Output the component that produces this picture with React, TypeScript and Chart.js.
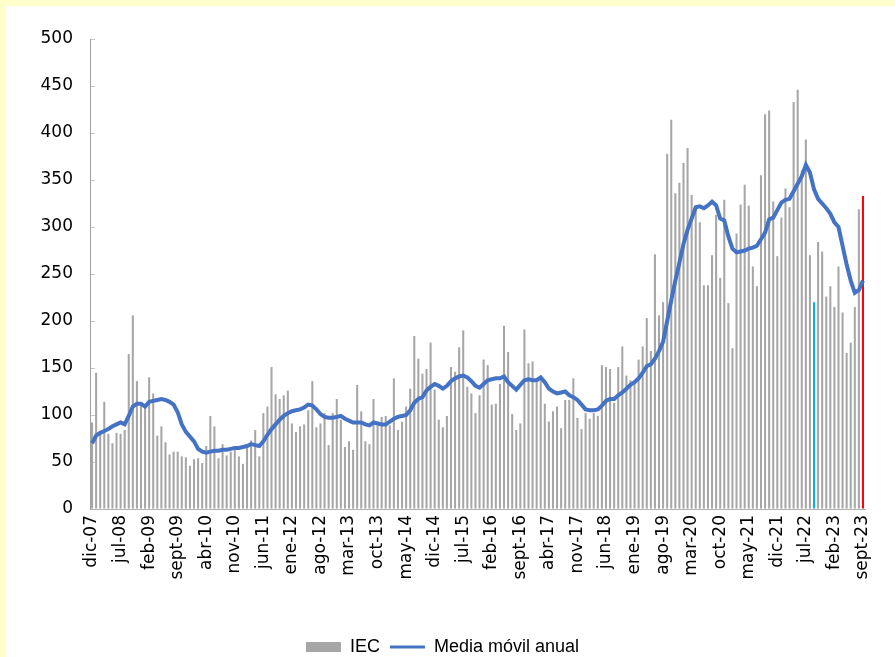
import React, { useEffect, useRef } from "react";
import { Chart, registerables } from "chart.js";

Chart.register(...registerables);

const monthNames = ["ene", "feb", "mar", "abr", "may", "jun", "jul", "ago", "sept", "oct", "nov", "dic"];
const startYear = 2007;
const startMonth = 11; // dic
const nMonths = 190;
const categories: string[] = [];
for (let i = 0; i < nMonths; i++) {
  const m = (startMonth + i) % 12;
  const y = startYear + Math.floor((startMonth + i) / 12);
  categories.push(`${monthNames[m]}-${String(y % 100).padStart(2, "0")}`);
}

const iecValues = [
  92, 145, 80, 114, 80, 70, 81, 80, 84, 165,
  206, 136, 110, 108, 140, 123, 78, 88, 71, 58,
  61, 61, 56, 55, 46, 53, 54, 49, 67, 99,
  88, 54, 69, 57, 61, 64, 56, 48, 67, 73,
  84, 56, 102, 109, 151, 122, 117, 121, 126, 91,
  82, 88, 90, 105, 136, 87, 91, 102, 68, 102,
  117, 95, 66, 72, 63, 132, 104, 72, 69, 117,
  89, 98, 99, 89, 139, 84, 93, 109, 128, 184,
  160, 144, 149, 177, 127, 95, 87, 99, 151, 146,
  172, 190, 130, 123, 102, 121, 159, 153, 111, 112,
  133, 195, 167, 101, 84, 91, 191, 155, 157, 135,
  139, 112, 93, 104, 109, 86, 116, 116, 139, 97,
  85, 102, 96, 102, 99, 153, 151, 149, 113, 151,
  173, 142, 137, 134, 159, 173, 203, 168, 271, 206,
  220, 378, 414, 336, 347, 368, 384, 334, 318, 305,
  238, 238, 270, 313, 246, 329, 219, 171, 293, 324,
  345, 323, 258, 237, 355, 420, 424, 327, 269, 310,
  341, 321, 433, 446, 360, 393, 270, 220, 284, 274,
  226, 237, 215, 258, 209, 166, 177, 215, 319, 333,
];

const movingAvg = [
  70, 78, 81, 83, 85, 88, 90, 92, 90, 99,
  109, 112, 112, 109, 114, 115, 116, 117, 116, 114,
  111, 103, 90, 82, 77, 72, 64, 61, 60, 61,
  62, 62, 63, 63, 64, 65, 65, 66, 67, 69,
  68, 67, 72, 79, 85, 90, 95, 99, 102, 104,
  105, 106, 108, 111, 110, 106, 101, 98, 97, 97,
  98, 99, 96, 94, 92, 92, 92, 90, 89, 92,
  91, 90, 90, 93, 96, 98, 99, 100, 105, 113,
  117, 119, 126, 130, 133, 131, 128, 131, 136, 139,
  141, 142, 140, 136, 131, 129, 133, 137, 138, 139,
  139, 141, 135, 131, 127, 132, 137, 138, 137, 137,
  140, 135, 128, 125, 123, 124, 125, 121, 119, 116,
  111, 106, 105, 105, 106, 110, 115, 117, 117, 121,
  124, 128, 132, 135, 139, 145, 152, 154, 160, 168,
  178, 200, 222, 243, 262, 282, 297, 309, 321, 322,
  320, 323, 327, 323, 309, 307, 290, 277, 273, 274,
  275, 277, 278, 280, 287, 294, 308, 310, 318, 326,
  329, 330, 338, 346, 354, 366, 358, 340, 330, 325,
  320, 314, 305, 300, 280, 260, 243, 230, 233, 243,
];

const highlightIndex = { 177: "#00B0F0", 189: "#FF0000" } as Record<number, string>;
const yTicks = [0, 50, 100, 150, 200, 250, 300, 350, 400, 450, 500];

const BAR_GRAY = "#A6A6A6";
const LINE_BLUE = "#4472C4";
const TICK_FONT = "'DejaVu Sans', sans-serif";
const LEG_FONT_SIZE = 18;
const LEG_PAD = 10;

export default function App() {
  const ref = useRef<HTMLCanvasElement | null>(null);
  useEffect(() => {
    if (!ref.current) return;
    const barColors = iecValues.map((_, i) => highlightIndex[i] || BAR_GRAY);
    const chart = new Chart(ref.current, {
      type: "bar",
      data: {
        labels: categories,
        datasets: [
          {
            type: "bar",
            label: "IEC",
            data: iecValues,
            backgroundColor: barColors,
            borderWidth: 0,
            barPercentage: 0.5,
            categoryPercentage: 1,
            order: 2,
          },
          {
            type: "line",
            label: "Media móvil anual",
            data: movingAvg,
            borderColor: LINE_BLUE,
            backgroundColor: LINE_BLUE,
            borderWidth: 4,
            pointRadius: 0,
            tension: 0,
            order: 1,
          },
        ],
      },
      options: {
        animation: false,
        responsive: false,
        layout: { padding: { left: 20, right: 30, top: 39, bottom: -9 } },
        plugins: {
          tooltip: { enabled: false },
          legend: {
            position: "bottom",
            labels: {
              usePointStyle: true,
              pointStyleWidth: 35,
              boxWidth: 35,
              boxHeight: 10,
              padding: LEG_PAD,
              color: "#000",
              font: { family: "'Liberation Sans', Arial, sans-serif", size: LEG_FONT_SIZE },
              generateLabels: () => [
                {
                  text: "IEC",
                  datasetIndex: 0,
                  fillStyle: BAR_GRAY,
                  strokeStyle: BAR_GRAY,
                  lineWidth: 0,
                  pointStyle: "rect",
                  hidden: false,
                  fontColor: "#000",
                },
                {
                  text: "Media móvil anual",
                  datasetIndex: 1,
                  fillStyle: LINE_BLUE,
                  strokeStyle: LINE_BLUE,
                  lineWidth: 3,
                  pointStyle: "line",
                  hidden: false,
                  fontColor: "#000",
                },
              ],
            },
          },
        },
        scales: {
          x: {
            grid: { display: false, drawTicks: false },
            border: { display: true, color: "#B0B0B0", width: 1 },
            ticks: {
              autoSkip: false,
              minRotation: 90,
              maxRotation: 90,
              padding: 6,
              color: "#000",
              font: { family: TICK_FONT, size: 17 },
              callback: (_v: any, i: number) => (i % 7 === 0 ? categories[i] : ""),
            },
            afterFit: (s: any) => {
              s.height = 657 - 509 - (LEG_FONT_SIZE + LEG_PAD + 10) + 9;
            },
          },
          y: {
            min: 0,
            max: 500,
            afterBuildTicks: (s: any) => {
              s.ticks = yTicks.map((v) => ({ value: v }));
            },
            grid: { drawOnChartArea: false, drawTicks: true, tickLength: -5, color: "#C8C8C8" },
            border: { display: true, color: "#A0A0A0", width: 1 },
            ticks: {
              padding: 22,
              color: "#000",
              font: { family: TICK_FONT, size: 17 },
            },
            afterFit: (s: any) => {
              s.width = 70;
            },
          },
        },
      },
    });
    return () => chart.destroy();
  }, []);

  return (
    <div style={{ position: "fixed", inset: 0, background: "#FFFFCC" }}>
      <div style={{ position: "absolute", left: 6, top: 6, right: 0, bottom: 0, background: "#FFFFFF" }} />
      <canvas
        ref={ref}
        width={895}
        height={657}
        style={{ position: "absolute", left: 0, top: 0, width: 895, height: 657 }}
      />
    </div>
  );
}
